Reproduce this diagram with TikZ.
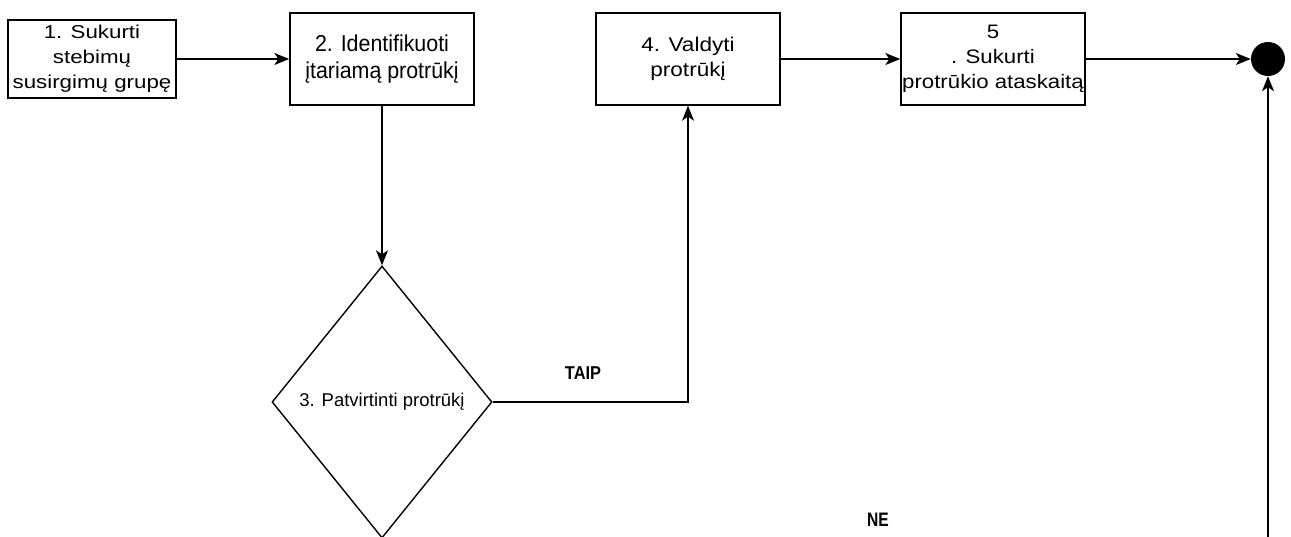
\documentclass[tikz,border=0pt]{standalone}
\usepackage{fontspec}
\setmainfont{Liberation Sans}
\newfontfamily\wideface{Liberation Sans}[FakeStretch=1.2]
\newfontfamily\narrowface{Liberation Sans}[FakeStretch=0.93]
\newfontfamily\midface{Liberation Sans}[FakeStretch=1.14]
\newfontfamily\guardface{Liberation Sans}[FakeStretch=0.88]
\newfontfamily\tightface{Liberation Sans}[FakeStretch=0.8]
\usetikzlibrary{shapes.geometric,arrows.meta}

\tikzset{
  stepbox/.style={draw, line width=1.4pt, inner sep=0pt, align=center},
  flow/.style={line width=1.4pt, -{Stealth[length=15pt,width=12pt,inset=4pt]}},
  decision/.style={diamond, draw, line width=1.4pt, inner sep=0pt,
    minimum width=220pt, minimum height=272pt},
  guard/.style={font=\bfseries},
  finish/.style={circle, fill=black, inner sep=0pt, minimum size=34pt}
}

\begin{document}
\begin{tikzpicture}[x=1pt,y=-1pt]
  \useasboundingbox (0,0) rectangle (1291,536);
  \clip (0,0) rectangle (1291,536);

  % activities
  \node[stepbox, minimum width=168pt, minimum height=78pt,
        font=\wideface\fontsize{18.6}{25}\selectfont] (b1) at (92,59)
    {1. Sukurti\\stebimų\\susirgimų grupę};
  \node[stepbox, minimum width=184pt, minimum height=92pt,
        font=\narrowface\fontsize{23}{27}\selectfont] (b2) at (382,59)
    {2. Identifikuoti\\įtariamą protrūkį};
  \node[stepbox, minimum width=184pt, minimum height=92pt,
        font=\midface\fontsize{19.8}{25}\selectfont] (b4) at (688,59)
    {4. Valdyti\\protrūkį};
  \node[stepbox, minimum width=184pt, minimum height=92pt,
        font=\midface\fontsize{19.5}{25}\selectfont] (b5) at (993,59)
    {5\\. Sukurti\\protrūkio ataskaitą};

  % decision
  \node[decision, label={[font=\fontsize{18.5}{22}\selectfont]center:3. Patvirtinti protrūkį}]
    (d3) at (382,402) {};

  % final state
  \node[finish] (end) at (1268,59) {};
  \coordinate (ne) at (1268,560);

  % flows
  \draw[flow] (b1) -- (b2);
  \draw[flow] (b2) -- (d3.north);
  \draw[flow] (d3.east) -| (b4.south);
  \draw[flow] (b4) -- (b5);
  \draw[flow] (b5) -- (end);
  \draw[flow] (ne) -- (end.south);

  % guards
  \node[guard, font=\guardface\bfseries\fontsize{18.6}{20}\selectfont] (taip) at (583,373) {TAIP};
  \node[guard, font=\tightface\bfseries\fontsize{19.5}{20}\selectfont] (nelabel) at (878,520) {NE};
\end{tikzpicture}
\end{document}
